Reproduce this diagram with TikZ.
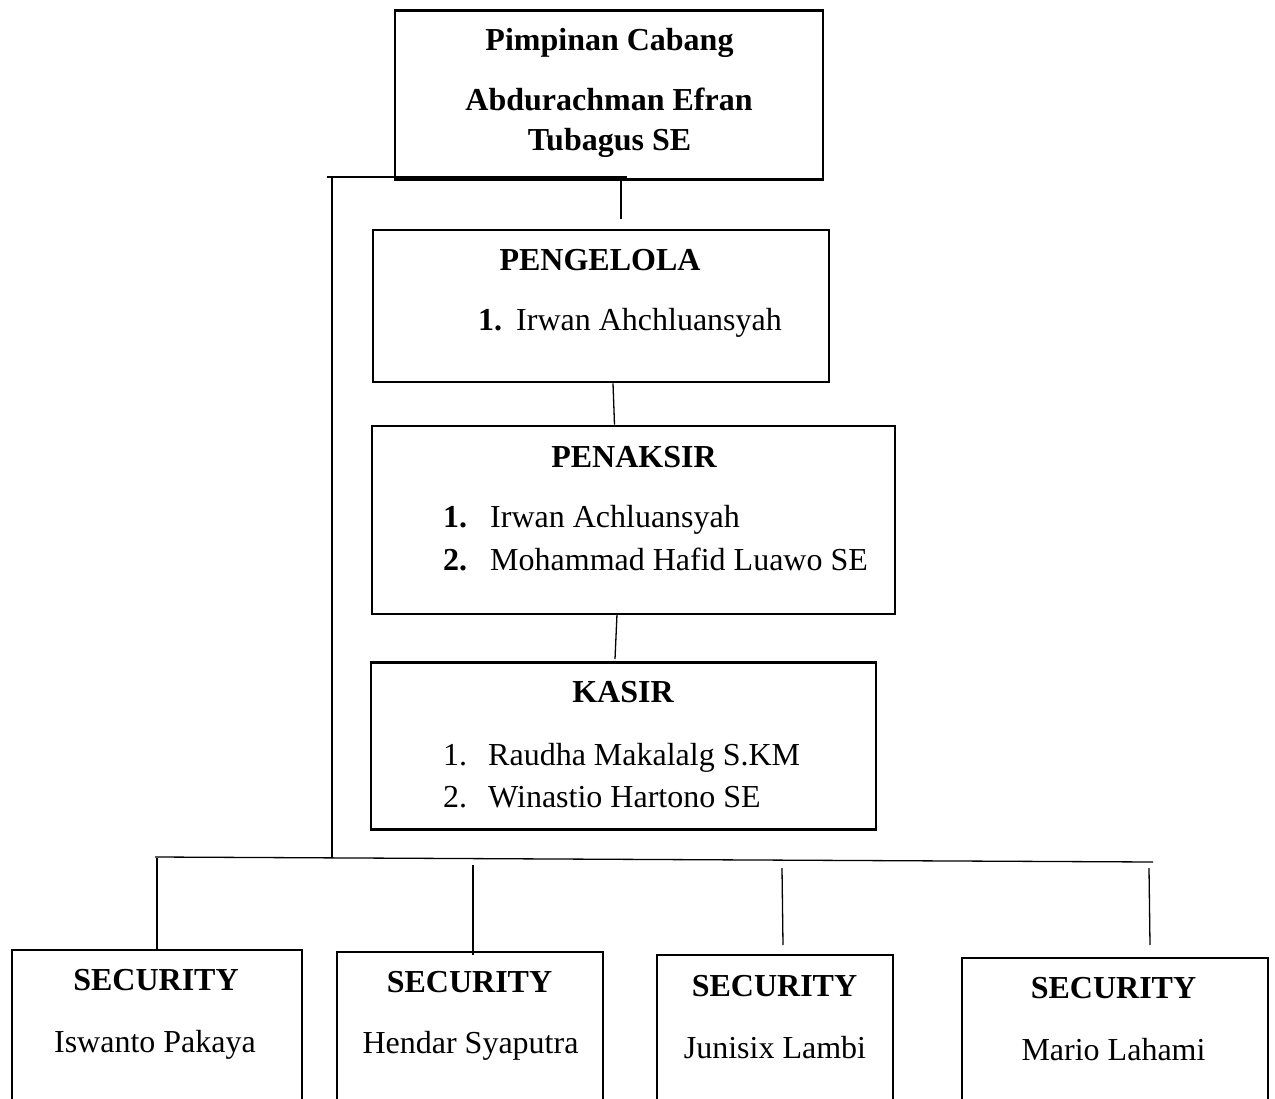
\documentclass[tikz,border=0pt]{standalone}
\usepackage{fontspec}
\setmainfont{Liberation Serif}
\usetikzlibrary{calc}
\begin{document}
\begin{tikzpicture}[x=1pt,y=-1pt,
  box/.style={draw, line width=2.6pt, inner sep=0pt},
  conn/.style={draw, line width=1.3pt},
  txt/.style={anchor=base, inner sep=0pt, font=\fontsize{32}{40}\selectfont},
  btxt/.style={anchor=base, inner sep=0pt, font=\fontsize{32}{40}\selectfont\bfseries},
  ltxt/.style={anchor=base west, inner sep=0pt, font=\fontsize{32}{40}\selectfont},
  lbtxt/.style={anchor=base west, inner sep=0pt, font=\fontsize{32}{40}\selectfont\bfseries}]
\useasboundingbox (0,0) rectangle (1275,1099);
\begin{scope}
\clip (0,0) rectangle (1275,1099);
% boxes
\node[box, minimum width=428pt, minimum height=169pt] (top) at (609,95) {};
\node[box, minimum width=456pt, minimum height=152pt] (peng) at (601,306) {};
\node[box, minimum width=523pt, minimum height=188pt] (pen) at (633.5,520) {};
\node[box, minimum width=505pt, minimum height=167pt] (kas) at (623.5,746) {};
\node[box, minimum width=290pt, minimum height=170pt] (s1) at (157,1035) {};
\node[box, minimum width=266pt, minimum height=170pt] (s2) at (470,1037) {};
\node[box, minimum width=236pt, minimum height=170pt] (s3) at (775,1040) {};
\node[box, minimum width=306pt, minimum height=170pt] (s4) at (1115,1043) {};

% texts
\node[btxt] (t1) at (609.5,51) {Pimpinan Cabang};
\node[btxt] (t2) at (609,111) {Abdurachman Efran};
\node[btxt] (t3) at (609.5,151) {Tubagus SE};

\node[btxt] (p1) at (600,271) {PENGELOLA};
\node[lbtxt] (p2n) at (478,331) {1.};
\node[ltxt] (p2) at (516,331) {Irwan Ahchluansyah};

\node[btxt] (k1) at (634,467) {PENAKSIR};
\node[lbtxt] (k2n) at (443,527) {1.};
\node[ltxt] (k2) at (490,527) {Irwan Achluansyah};
\node[lbtxt] (k3n) at (443,570) {2.};
\node[ltxt] (k3) at (490,570) {Mohammad Hafid Luawo SE};

\node[btxt] (c1) at (623,702) {KASIR};
\node[ltxt] (c2n) at (443,765) {1.};
\node[ltxt] (c2) at (488,765) {Raudha Makalalg S.KM};
\node[ltxt] (c3n) at (443,807) {2.};
\node[ltxt] (c3) at (488,807) {Winastio Hartono SE};

\node[btxt] (s1a) at (156,990) {SECURITY};
\node[txt] (s1b) at (155,1052) {Iswanto Pakaya};
\node[btxt] (s2a) at (469.5,992) {SECURITY};
\node[txt] (s2b) at (470.5,1053) {Hendar Syaputra};
\node[btxt] (s3a) at (774.5,996) {SECURITY};
\node[txt] (s3b) at (775,1058) {Junisix Lambi};
\node[btxt] (s4a) at (1113.5,998) {SECURITY};
\node[txt] (s4b) at (1113.5,1060) {Mario Lahami};
\end{scope}

% connector coordinates
\coordinate (hl) at (327,177);
\coordinate (hr) at (627,177);
\coordinate (vl) at (332,177);
\coordinate (vlb) at (332,858);
\coordinate (pa) at (621,181);
\coordinate (pb) at (621,219);
\coordinate (bl) at (155,857);
\coordinate (br) at (1153,862);
\coordinate (d1) at (157,858);
\coordinate (d2) at (473,865);
\coordinate (d2b) at (473,955);
\coordinate (d3) at (782,868);
\coordinate (d3b) at (783,945);
\coordinate (d4) at (1149,868);
\coordinate (d4b) at (1150,945);
\coordinate (ka) at (617,614);
\coordinate (kb) at (615,659);

\path[conn] (hl) -- (hr);
\path[conn] (vl) -- (vlb);
\path[conn] (pa) -- (pb);
\path[conn] ($(peng.south)+(12,0)$) -- ($(pen.north)+(-19,0)$);
\path[conn] (ka) -- (kb);
\path[conn] (bl) -- (br);
\path[conn] (d1) -- (d1 |- s1.north);
\path[conn] (d2) -- (d2b);
\path[conn] (d3) -- (d3b);
\path[conn] (d4) -- (d4b);
\end{tikzpicture}
\end{document}
